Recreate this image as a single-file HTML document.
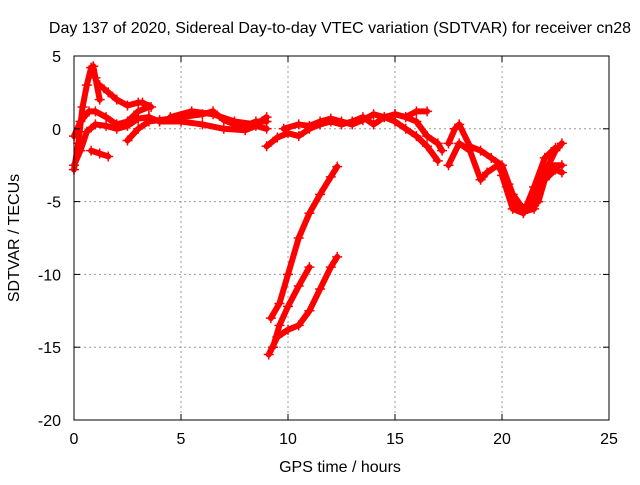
<!DOCTYPE html>
<html><head><meta charset="utf-8"><style>
body{margin:0;background:#fff}
svg text{font-family:"Liberation Sans",sans-serif;font-size:16px;fill:#000}
</style></head><body>
<svg id="chart" width="640" height="480" xmlns="http://www.w3.org/2000/svg">
<rect width="640" height="480" fill="#fff"/>
<text x="340" y="33" text-anchor="middle">Day 137 of 2020, Sidereal Day-to-day VTEC variation (SDTVAR) for receiver cn28</text>
<text x="340" y="472" text-anchor="middle">GPS time / hours</text>
<text transform="translate(19,238) rotate(-90)" text-anchor="middle">SDTVAR / TECUs</text>
<g id="grid"></g><g id="series"></g>
<rect x="74" y="56" width="535" height="364" fill="none" stroke="#000"/>
<g id="ticks"></g>
</svg>
<script>
const xTicks=[0,5,10,15,20,25];
const yTicks=[5,0,-5,-10,-15,-20];
const sA=[[0,-2.8],[0.2,-1],[0.4,1.5],[0.6,3],[0.8,4.2],[0.9,4.3],[1,3.5],[1.2,2]];
const sA2=[[1.2,3],[1.6,2.5],[2,2],[2.5,1.6],[3,1.8],[3.2,1.8],[3.6,1.5]];
const sB=[[0,-0.5],[0.3,0.5],[0.7,1.2],[1,1.2],[1.5,0.8],[2,0.3],[2.5,0.5],[3,1.2],[3.5,1.5]];
const sC=[[0,-2.5],[0.3,-1.5],[0.6,-0.2],[1,0.3],[1.5,0.2],[2,0],[2.5,0.2],[3,0.7],[3.5,0.8]];
const sD=[[0.8,-1.5],[1.2,-1.7],[1.6,-1.9]];
const sE=[[2.5,-0.8],[3,0],[3.5,0.5],[4,0.6],[5,0.8],[6,1],[6.5,1.2],[7,0.6],[7.5,0.3],[8,0.2],[8.5,0.5],[9,0.5]];
const sF=[[3.5,0.8],[4,0.5],[5,0.5],[6,0.3],[7,0],[8,-0.1],[8.5,0.2],[9,0]];
const sG=[[4.5,0.8],[5.5,1.2],[6.5,1],[7.5,0.5],[8.5,0.3],[9,0.8]];
const sH=[[9,-1.2],[9.5,-0.6],[10,-0.3],[10.5,-0.5],[11,0],[11.5,0.3],[12,0.5],[12.5,0.3],[13,0.5],[13.5,0.8],[14,0.3],[14.5,0.8],[15,0.5],[15.5,0],[16,-0.5],[16.5,-1.2],[17,-2.2]];
const sI=[[9.8,0],[10.5,0.3],[11,0.2],[11.5,0.5],[12,0.7],[12.5,0.5],[13,0.3],[13.5,0.6],[14,1],[14.5,0.8],[15,1],[15.5,0.8],[16,0.5],[16.5,-0.5],[17,-1],[17.2,-1.5]];
const sJ=[[15,1],[15.5,0.8],[16,1.2],[16.5,1.2]];
const sK=[[9.2,-13],[9.6,-12],[10,-10],[10.5,-7.5],[11,-5.8],[11.5,-4.5],[12,-3.3],[12.3,-2.6]];
const sL=[[9.1,-15.5],[9.5,-14.3],[10,-13.8],[10.5,-13.5],[11,-12.5],[11.5,-11],[12,-9.5],[12.3,-8.8]];
const sM=[[9.3,-15],[9.6,-13.5],[10,-12.2],[10.5,-10.8],[11,-9.5]];
const sN=[[17.5,-1],[17.8,0],[18,0.3],[18.5,-1.2],[19,-1.5],[19.5,-2],[20,-2.5],[20.5,-4.5],[21,-5.5],[21.5,-5],[22,-3],[22.5,-1.5],[22.8,-1]];
const sO=[[17.5,-2.5],[18,-1],[18.5,-1.5],[19,-3.5],[19.3,-3],[19.8,-2.5],[20.3,-3.8],[20.7,-5.2],[21,-5.7],[21.5,-5.5],[21.8,-3.8],[22.3,-2.5],[22.8,-2.5]];
const sP=[[20,-3.2],[20.5,-5.5],[21,-5.8],[21.5,-4],[22,-2],[22.5,-1.3]];
const sQ=[[21.7,-5],[22,-3.5],[22.5,-2.8],[22.8,-3]];
const allSeries=[sA,sA2,sB,sC,sD,sE,sF,sG,sH,sI,sJ,sK,sL,sM,sN,sO,sP,sQ];
const NS="http://www.w3.org/2000/svg";
const X=v=>74+(v-0)*535/25;
const Y=v=>56+(5-v)*364/25;
const grid=document.getElementById('grid'),ticks=document.getElementById('ticks'),ser=document.getElementById('series');
function mk(tag,attrs,parent){const e=document.createElementNS(NS,tag);for(const k in attrs)e.setAttribute(k,attrs[k]);parent.appendChild(e);return e;}
xTicks.forEach(t=>{
  if(t>0&&t<25){const g=mk('line',{x1:X(t),x2:X(t),y1:56,y2:420,stroke:'#999','stroke-dasharray':'2,3','stroke-width':1},grid);
  
  }
  const l=mk('text',{x:X(t),y:444,'text-anchor':'middle'},ticks);l.textContent=t;
  
  
  mk('line',{x1:X(t),x2:X(t),y1:420,y2:414,stroke:'#000'},ticks);
  mk('line',{x1:X(t),x2:X(t),y1:56,y2:62,stroke:'#000'},ticks);
});
yTicks.forEach(t=>{
  if(t<5&&t>-20){const g=mk('line',{x1:74,x2:609,y1:Y(t),y2:Y(t),stroke:'#999','stroke-dasharray':'2,3','stroke-width':1},grid);
  
  }
  const l=mk('text',{x:61,y:Y(t)+6,'text-anchor':'end'},ticks);l.textContent=t;
  
  
  mk('line',{x1:74,x2:80,y1:Y(t),y2:Y(t),stroke:'#000'},ticks);
  mk('line',{x1:603,x2:609,y1:Y(t),y2:Y(t),stroke:'#000'},ticks);
});
allSeries.forEach((s,i)=>{
  const g=mk('g',{},ser);
  
  
  mk('polyline',{points:s.map(p=>X(p[0])+','+Y(p[1])).join(' '),fill:'none',stroke:'#f00','stroke-width':6,'stroke-linejoin':'round','stroke-linecap':'round'},g);
  s.forEach(p=>{const x=X(p[0]),y=Y(p[1]);
    mk('path',{d:`M${x-5},${y}H${x+5}M${x},${y-5}V${y+5}`,stroke:'#f00','stroke-width':1.5},g);});
});
</script>
</body></html>
